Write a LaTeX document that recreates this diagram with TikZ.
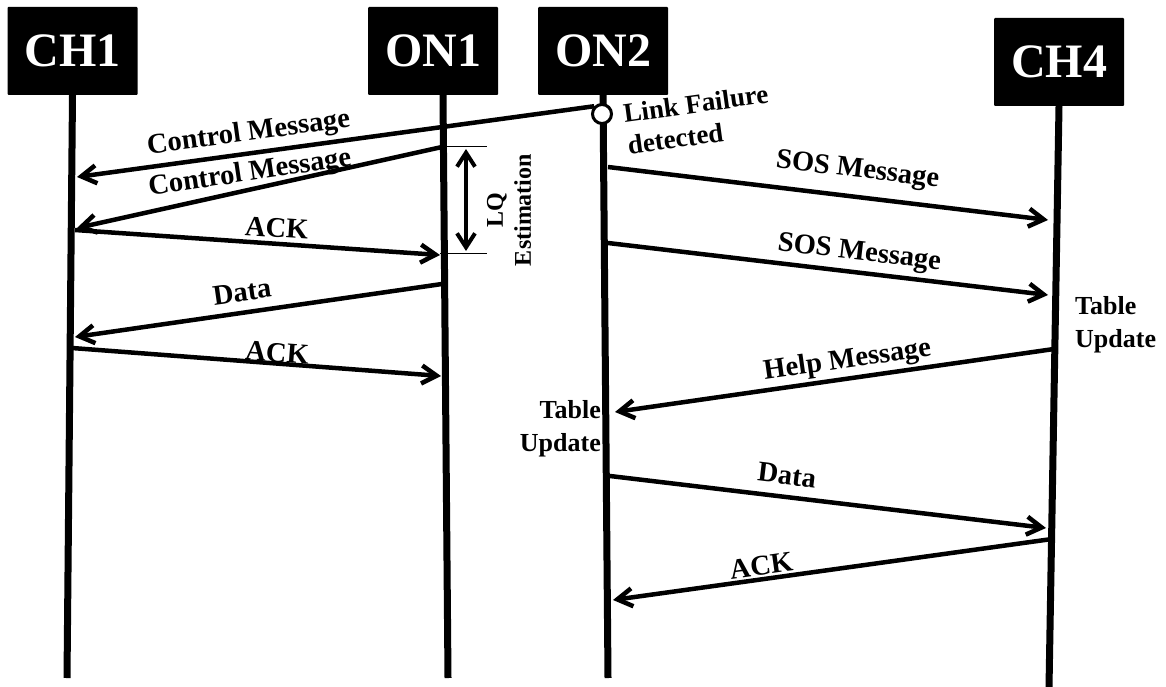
\documentclass[tikz,border=0pt]{standalone}
\usepackage{fontspec}
\setmainfont{Liberation Serif}
\usetikzlibrary{arrows.meta}
\begin{document}
\begin{tikzpicture}[x=1pt,y=-1pt,
  box/.style={fill=black, text=white, minimum width=130pt, minimum height=88pt, inner sep=0pt,
    font=\fontsize{48}{48}\selectfont\bfseries, rounded corners=1pt},
  life/.style={line width=7pt},
  msg/.style={line width=4.5pt, -{Straight Barb[length=15pt,width=18pt]}},
  lbl/.style={font=\fontsize{28.5}{28}\selectfont\bfseries, sloped, inner sep=0pt},
  note/.style={font=\fontsize{26}{33}\selectfont\bfseries, inner sep=0pt}
]
\useasboundingbox (0,0) rectangle (1166,687);

% header boxes
\node[box] (CH1) at (72.5,51) {CH1};
\node[box] (ON1) at (433,51) {ON1};
\node[box] (ON2) at (603,51) {ON2};
\node[box] (CH4) at (1059,62) {CH4};

% lifeline ends
\coordinate (ch1b) at (67,678);
\coordinate (on1b) at (448,678);
\coordinate (on2b) at (608,678);
\coordinate (ch4b) at (1049,687);

\draw[life] (CH1.south) -- (ch1b);
\draw[life] ([xshift=10pt]ON1.south) -- (on1b);
\draw[life] (ON2.south) -- (on2b);
\draw[life] (CH4.south) -- (ch4b);

% link failure marker
\node[circle, draw, fill=white, line width=3pt, minimum size=19pt, inner sep=0pt] (lf) at (602,114) {};

% message end points
\coordinate (cm1e) at (77,177);
\coordinate (cm2s) at (442,147);
\coordinate (cm2e) at (77,228);
\coordinate (a1s) at (75,230);
\coordinate (a1e) at (440,255);
\coordinate (d1s) at (442,284);
\coordinate (d1e) at (75,337);
\coordinate (a2s) at (72,348);
\coordinate (a2e) at (441,376);
\coordinate (s1s) at (608,167);
\coordinate (s1e) at (1048,220);
\coordinate (s2s) at (608,243);
\coordinate (s2e) at (1048,295);
\coordinate (hs) at (1054,349);
\coordinate (he) at (615,412);
\coordinate (d2s) at (610,476);
\coordinate (d2e) at (1046,528);
\coordinate (a3s) at (1052,539);
\coordinate (a3e) at (613,600);

% messages
\draw[msg] (lf.135) -- node[lbl, pos=0.663, above=4pt] {Control Message} (cm1e);
\draw[msg] (cm2s) -- node[font=\fontsize{28.5}{28}\selectfont\bfseries, inner sep=0pt, pos=0.52, anchor=south, rotate=8.5] {Control Message} (cm2e);
\draw[msg] (a1s) -- node[lbl, pos=0.55, above=4pt] {ACK} (a1e);
\draw[msg] (d1s) -- node[lbl, pos=0.537, above=9pt] {Data} (d1e);
\draw[msg] (a2s) -- node[lbl, pos=0.554, above=-1pt] {ACK} (a2e);
\draw[msg] (s1s) -- node[lbl, pos=0.56, above=11pt] {SOS Message} (s1e);
\draw[msg] (s2s) -- node[lbl, pos=0.566, above=4pt] {SOS Message} (s2e);
\draw[msg] (hs) -- node[lbl, pos=0.465, above=2pt] {Help Message} (he);
\draw[msg] (d2s) -- node[lbl, pos=0.40, above=10pt] {Data} (d2e);
\draw[msg] (a3s) -- node[lbl, pos=0.658, above=2pt] {ACK} (a3e);

% LQ estimation
\coordinate (lqa1) at (440,147);
\coordinate (lqa2) at (487,147);
\coordinate (lqb1) at (440,253);
\coordinate (lqb2) at (487,253);
\coordinate (lqt) at (466,149);
\coordinate (lqbm) at (466,251);
\draw[line width=1pt] (lqa1) -- (lqa2);
\draw[line width=1pt] (lqb1) -- (lqb2);
\draw[line width=4pt, {Straight Barb[length=14pt,width=18pt]}-{Straight Barb[length=14pt,width=18pt]}] (lqt) -- (lqbm);
\node[font=\fontsize{24}{28}\selectfont\bfseries, align=center, rotate=90, inner sep=0pt] (lq) at (509,210) {LQ\\Estimation};

% notes
\node[font=\fontsize{27}{32}\selectfont\bfseries, inner sep=0pt, align=left, rotate=7.9, anchor=north west] (lfd) at (622,104) {Link Failure\\detected};
\node[note, align=right, anchor=north east] (tu2) at (601,400) {Table\\Update};
\node[note, align=left, anchor=north west] (tu4) at (1075,296) {Table\\Update};
\end{tikzpicture}
\end{document}
